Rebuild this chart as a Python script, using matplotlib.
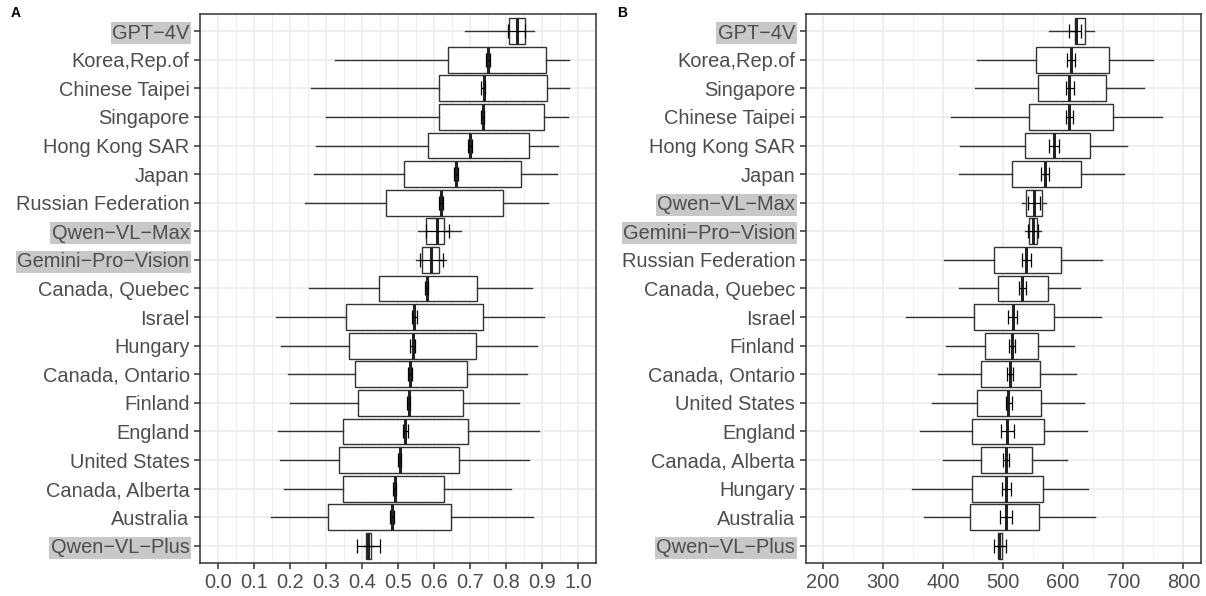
import numpy as np
import matplotlib
matplotlib.use("Agg")
import matplotlib.pyplot as plt
from matplotlib.ticker import MultipleLocator

plt.rcParams['font.family'] = ['Liberation Sans', 'DejaVu Sans']

models = ["GPT−4V", "Qwen−VL−Max", "Gemini−Pro−Vision", "Qwen−VL−Plus"]

# panel A (top to bottom)
labels_a = ["GPT−4V", "Korea,Rep.of", "Chinese Taipei", "Singapore", "Hong Kong SAR", "Japan",
            "Russian Federation", "Qwen−VL−Max", "Gemini−Pro−Vision", "Canada, Quebec", "Israel",
            "Hungary", "Canada, Ontario", "Finland", "England", "United States", "Canada, Alberta",
            "Australia", "Qwen−VL−Plus"]
lo_a = [0.687, 0.326, 0.259, 0.301, 0.273, 0.267, 0.241, 0.555, 0.550, 0.252, 0.162, 0.174, 0.195, 0.201, 0.168, 0.173, 0.183, 0.148, 0.405]
q1_a = [0.807, 0.638, 0.614, 0.614, 0.582, 0.516, 0.466, 0.578, 0.567, 0.446, 0.356, 0.365, 0.380, 0.388, 0.346, 0.335, 0.347, 0.305, 0.411]
med_a = [0.830, 0.750, 0.739, 0.736, 0.701, 0.662, 0.619, 0.608, 0.593, 0.580, 0.544, 0.541, 0.534, 0.530, 0.519, 0.506, 0.493, 0.484, 0.418]
q3_a = [0.854, 0.911, 0.914, 0.906, 0.863, 0.841, 0.791, 0.629, 0.614, 0.720, 0.735, 0.717, 0.693, 0.680, 0.694, 0.669, 0.628, 0.647, 0.424]
hi_a = [0.879, 0.974, 0.974, 0.972, 0.944, 0.941, 0.916, 0.674, 0.633, 0.872, 0.905, 0.887, 0.858, 0.835, 0.891, 0.863, 0.815, 0.876, 0.430]
mean_a = [0.830, 0.750, 0.737, 0.735, 0.700, 0.661, 0.619, 0.610, 0.593, 0.578, 0.545, 0.540, 0.533, 0.529, 0.520, 0.505, 0.490, 0.483, 0.418]
err_a = [0.024, 0.005, 0.006, 0.005, 0.006, 0.006, 0.005, 0.031, 0.031, 0.004, 0.007, 0.006, 0.005, 0.005, 0.0065, 0.004, 0.005, 0.005, 0.032]

# panel B (top to bottom)
labels_b = ["GPT−4V", "Korea,Rep.of", "Singapore", "Chinese Taipei", "Hong Kong SAR", "Japan",
            "Qwen−VL−Max", "Gemini−Pro−Vision", "Russian Federation", "Canada, Quebec", "Israel",
            "Finland", "Canada, Ontario", "United States", "England", "Canada, Alberta", "Hungary",
            "Australia", "Qwen−VL−Plus"]
lo_b = [576, 456, 454, 414, 428, 426, 532, 537, 401, 426, 339, 405, 392, 382, 362, 400, 349, 369, 490]
q1_b = [620, 555, 559, 543, 537, 515, 539, 544, 485, 491, 452, 470, 464, 457, 448, 463, 448, 445, 492]
med_b = [622, 613, 610, 609, 585, 570, 552, 550, 539, 532, 517, 515, 512, 509, 507, 505, 505, 505, 494]
q3_b = [637, 677, 672, 683, 644, 630, 565, 557, 596, 575, 585, 559, 562, 563, 568, 549, 567, 560, 498]
hi_b = [652, 749, 734, 765, 706, 701, 572, 564, 665, 628, 663, 618, 622, 635, 640, 606, 642, 653, 500]
mean_b = [620, 613, 611, 610, 585, 570, 551, 550, 539, 532, 516, 515, 512, 510, 507, 505, 505, 505, 495.5]
err_b = [10, 6, 7, 6, 8, 6, 10, 8, 8, 6, 8, 5, 5, 5, 11, 5, 7.5, 10.5, 10]


def panel(ax, labels, lo, q1, med, q3, hi, mean, err, xlim, major, minor, fmt):
    n = len(labels)
    pos = np.arange(n)
    stats = [dict(whislo=lo[i], q1=q1[i], med=med[i], q3=q3[i], whishi=hi[i], fliers=[])
             for i in range(n)]
    ax.bxp(stats, positions=pos, widths=0.9, orientation='horizontal', showcaps=False,
           showfliers=False, patch_artist=True, manage_ticks=False,
           boxprops=dict(facecolor='white', edgecolor='#333333', linewidth=1.0),
           whiskerprops=dict(color='#333333', linewidth=1.0),
           medianprops=dict(color='#222222', linewidth=2.2, solid_capstyle='butt'))
    ax.errorbar(mean, pos, xerr=err, fmt='none', ecolor='black', elinewidth=0.9,
                capsize=5, capthick=0.9, zorder=5)
    ax.set_xlim(*xlim)
    ax.set_ylim(n - 0.4, -0.6)
    ax.set_yticks(pos)
    ax.set_yticklabels(labels)
    ax.xaxis.set_major_locator(MultipleLocator(major))
    ax.xaxis.set_minor_locator(MultipleLocator(minor))
    ax.xaxis.set_major_formatter(fmt)
    ax.grid(which='major', color='#ebebeb', linewidth=1.1)
    ax.grid(which='minor', axis='x', color='#ebebeb', linewidth=0.6)
    ax.set_axisbelow(True)
    ax.tick_params(axis='both', which='major', labelsize=14.4, labelcolor='#4d4d4d',
                   color='#333333', length=4.5, width=1.1, pad=3)
    ax.tick_params(axis='x', which='minor', length=0)
    for s in ax.spines.values():
        s.set_color('#333333')
        s.set_linewidth(1.1)
    for t in ax.get_yticklabels():
        if t.get_text() in models:
            t.set_bbox(dict(facecolor='#c8c8c8', edgecolor='none', pad=1))


fig = plt.figure(figsize=(12.06, 5.96), dpi=100)
ax_a = fig.add_axes([0.1658, 0.0554, 0.3284, 0.9211])
ax_b = fig.add_axes([0.6680, 0.0554, 0.3279, 0.9211])

panel(ax_a, labels_a, lo_a, q1_a, med_a, q3_a, hi_a, mean_a, err_a, (-0.05, 1.05), 0.1, 0.05,
      lambda v, p: f"{v:.1f}")
panel(ax_b, labels_b, lo_b, q1_b, med_b, q3_b, hi_b, mean_b, err_b, (171.5, 829.5), 100, 50,
      lambda v, p: f"{v:.0f}")

fig.text(0.0085, 0.979, "A", fontsize=10, fontweight='bold', va='center', ha='left')
fig.text(0.5115, 0.979, "B", fontsize=10, fontweight='bold', va='center', ha='left')

fig.savefig("out.png", dpi=100)
